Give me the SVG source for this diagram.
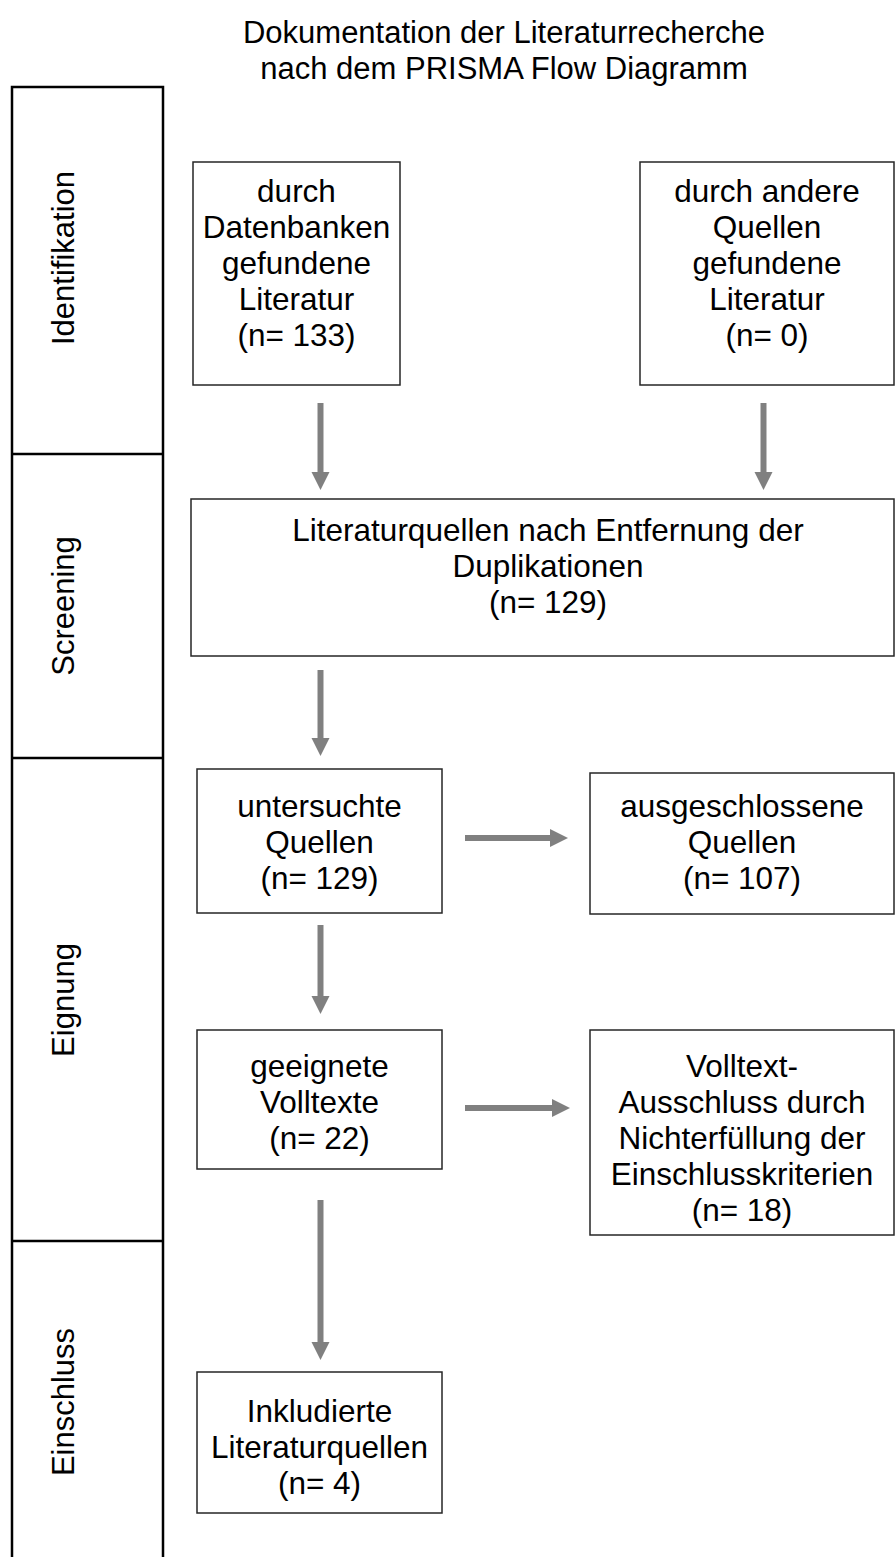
<svg xmlns="http://www.w3.org/2000/svg" width="896" height="1557" viewBox="0 0 896 1557">
<defs>
<style>
text{font-family:"Liberation Sans",Arial,sans-serif;fill:#000;text-anchor:middle}
.t{font-size:31px}
.n{font-size:31.5px}
.lab{font-size:31px}
.box{fill:#fff;stroke:#262626;stroke-width:1.5}
.side{fill:none;stroke:#000;stroke-width:2.5}
.arr{stroke:#808080;stroke-width:6;fill:none}
.head{fill:#808080}
</style>
</defs>
<rect width="896" height="1557" fill="#fff"/>
<g id="title">
<text class="t" x="504" y="43">Dokumentation der Literaturrecherche</text>
<text class="t" x="504" y="79">nach dem PRISMA Flow Diagramm</text>
</g>
<g id="sidebar">
<path class="side" d="M12,1557 V87 H163 V1557 M12,454 H163 M12,758 H163 M12,1241 H163"/>
<text class="lab" transform="translate(74,258) rotate(-90)">Identifikation</text>
<text class="lab" transform="translate(74,606) rotate(-90)">Screening</text>
<text class="lab" transform="translate(74,1000) rotate(-90)">Eignung</text>
<text class="lab" transform="translate(74,1402) rotate(-90)">Einschluss</text>
</g>
<g id="connectors">
<line class="arr" x1="320.5" y1="403" x2="320.5" y2="474"/><polygon class="head" points="311.5,472 329.5,472 320.5,490"/>
<line class="arr" x1="763.5" y1="403" x2="763.5" y2="474"/><polygon class="head" points="754.5,472 772.5,472 763.5,490"/>
<line class="arr" x1="320.5" y1="670" x2="320.5" y2="740"/><polygon class="head" points="311.5,738 329.5,738 320.5,756"/>
<line class="arr" x1="465" y1="838" x2="552" y2="838"/><polygon class="head" points="550,829 550,847 568,838"/>
<line class="arr" x1="320.5" y1="925" x2="320.5" y2="998"/><polygon class="head" points="311.5,996 329.5,996 320.5,1014"/>
<line class="arr" x1="465" y1="1108" x2="554" y2="1108"/><polygon class="head" points="552,1099 552,1117 570,1108"/>
<line class="arr" x1="320.5" y1="1200" x2="320.5" y2="1344"/><polygon class="head" points="311.5,1342 329.5,1342 320.5,1360"/>
</g>
<g id="nodeA">
<rect class="box" x="193" y="162" width="207" height="223"/>
<text class="n" x="296.5" y="202">durch</text>
<text class="n" x="296.5" y="238">Datenbanken</text>
<text class="n" x="296.5" y="274">gefundene</text>
<text class="n" x="296.5" y="310">Literatur</text>
<text class="n" x="296.5" y="346">(n= 133)</text>
</g>
<g id="nodeB">
<rect class="box" x="640" y="162" width="254" height="223"/>
<text class="n" x="767" y="202">durch andere</text>
<text class="n" x="767" y="238">Quellen</text>
<text class="n" x="767" y="274">gefundene</text>
<text class="n" x="767" y="310">Literatur</text>
<text class="n" x="767" y="346">(n= 0)</text>
</g>
<g id="nodeC">
<rect class="box" x="191" y="499" width="703" height="157"/>
<text class="n" x="548" y="541">Literaturquellen nach Entfernung der</text>
<text class="n" x="548" y="577">Duplikationen</text>
<text class="n" x="548" y="613">(n= 129)</text>
</g>
<g id="nodeD">
<rect class="box" x="197" y="769" width="245" height="144"/>
<text class="n" x="319.5" y="817">untersuchte</text>
<text class="n" x="319.5" y="853">Quellen</text>
<text class="n" x="319.5" y="889">(n= 129)</text>
</g>
<g id="nodeE">
<rect class="box" x="590" y="773" width="304" height="141"/>
<text class="n" x="742" y="817">ausgeschlossene</text>
<text class="n" x="742" y="853">Quellen</text>
<text class="n" x="742" y="889">(n= 107)</text>
</g>
<g id="nodeF">
<rect class="box" x="197" y="1030" width="245" height="139"/>
<text class="n" x="319.5" y="1077">geeignete</text>
<text class="n" x="319.5" y="1113">Volltexte</text>
<text class="n" x="319.5" y="1149">(n= 22)</text>
</g>
<g id="nodeG">
<rect class="box" x="590" y="1030" width="304" height="205"/>
<text class="n" x="742" y="1077">Volltext-</text>
<text class="n" x="742" y="1113">Ausschluss durch</text>
<text class="n" x="742" y="1149">Nichterfüllung der</text>
<text class="n" x="742" y="1185">Einschlusskriterien</text>
<text class="n" x="742" y="1221">(n= 18)</text>
</g>
<g id="nodeH">
<rect class="box" x="197" y="1372" width="245" height="141"/>
<text class="n" x="319.5" y="1422">Inkludierte</text>
<text class="n" x="319.5" y="1458">Literaturquellen</text>
<text class="n" x="319.5" y="1494">(n= 4)</text>
</g>
</svg>
